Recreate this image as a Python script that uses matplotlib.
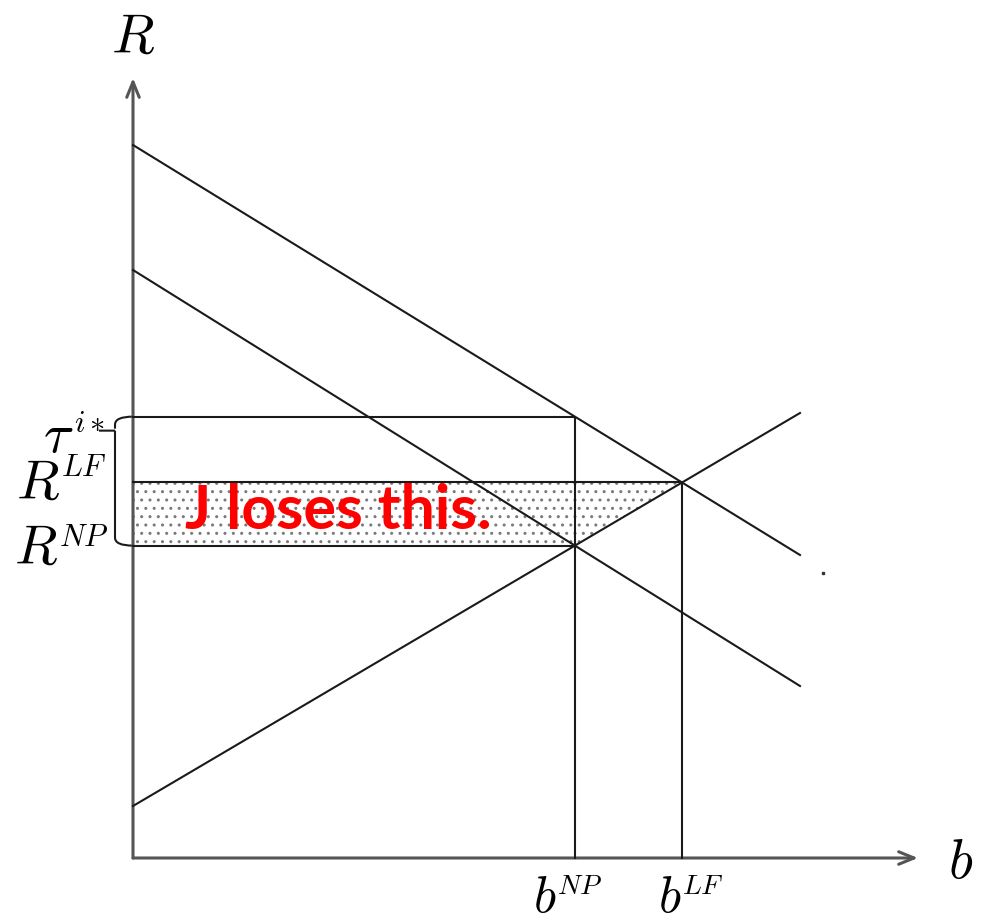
import matplotlib
matplotlib.use("Agg")
import matplotlib.pyplot as plt
import numpy as np
from matplotlib.patches import Polygon, PathPatch
from matplotlib.path import Path

plt.rcParams['mathtext.fontset'] = 'cm'
plt.rcParams['hatch.color'] = '#7a7a7a'
plt.rcParams['hatch.linewidth'] = 1.0

# ---- data (units: b horizontal, R vertical) ----
b_max = 667.0                        # right end of the curves
demand_high = [713.0, -410.0 / 667]  # intercept, slope
demand_low = [588.0, -416.0 / 667]
supply = [52.0, 393.0 / 667]
axis_len_b = 785.0
axis_len_R = 780.0
axis_labels = ["$R$", "$b$"]
level_labels = [(r"$\tau$", r"$i*$"), ("$R$", "$LF$"), ("$R$", "$NP$")]
b_labels = [("$b$", "$NP$"), ("$b$", "$LF$")]
note = "J loses this."


def line_val(p, x):
    return p[0] + p[1] * x


def intersect(p, q):
    x = (q[0] - p[0]) / (p[1] - q[1])
    return x, line_val(p, x)


b_np, R_np = intersect(supply, demand_low)
b_lf, R_lf = intersect(supply, demand_high)
tau = line_val(demand_high, b_np)

fig = plt.figure(figsize=(9.84, 9.24), dpi=100)
ax = fig.add_axes([0, 0, 1, 1])
ax.set_xlim(-133, 851)
ax.set_ylim(-66, 858)
ax.axis('off')

lc = '#1a1a1a'
lw = 1.5

# shaded area
poly = Polygon([(0, R_lf), (b_lf, R_lf), (b_np, R_np), (0, R_np)],
               closed=True, facecolor='none', edgecolor='#7a7a7a',
               linewidth=0, hatch='..', zorder=1)
ax.add_patch(poly)

# axes with open arrows
astyle = '->,head_length=1.1,head_width=0.45'
ax.annotate('', xy=(0, axis_len_R), xytext=(0, 0),
            arrowprops=dict(arrowstyle=astyle, color='#555555', lw=2.2,
                            shrinkA=0, shrinkB=0))
ax.annotate('', xy=(axis_len_b, 0), xytext=(0, 0),
            arrowprops=dict(arrowstyle=astyle, color='#555555', lw=2.2,
                            shrinkA=0, shrinkB=0))

xs = np.array([0, b_max])
for p in (demand_high, demand_low, supply):
    ax.plot(xs, line_val(p, xs), color=lc, lw=lw, zorder=3)

# guide lines
ax.plot([0, b_np, b_np], [tau, tau, 0], color=lc, lw=lw, zorder=3)
ax.plot([0, b_lf, b_lf], [R_lf, R_lf, 0], color=lc, lw=lw, zorder=3)
ax.plot([0, b_np], [R_np, R_np], color=lc, lw=lw, zorder=3)

# brace
xb = -18
tip_y = tau - 14
verts = [(0, tau), (xb, tau), (xb, tau - 8), (xb, tip_y + 2),
         (xb, tip_y), (xb - 16, tip_y), (xb, tip_y),
         (xb, R_np + 8), (xb, R_np), (0, R_np)]
codes = [Path.MOVETO, Path.CURVE3, Path.CURVE3, Path.LINETO,
         Path.MOVETO, Path.LINETO, Path.MOVETO,
         Path.LINETO, Path.CURVE3, Path.CURVE3]
ax.add_patch(PathPatch(Path(verts, codes), facecolor='none', edgecolor=lc, lw=1.5))


def sup_label(x, y, parts, dy, base_size=40, sup_size=22):
    ax.text(x, y, parts[0], fontsize=base_size, ha='right', va='baseline')
    ax.text(x + 1, y + dy, parts[1], fontsize=sup_size, ha='left', va='baseline')


# labels
ax.text(0, 805, axis_labels[0], fontsize=40, ha='center', va='baseline')
ax.text(815, -20, axis_labels[1], fontsize=40, ha='left', va='baseline')
sup_label(-60, 406, level_labels[0], 20)
sup_label(-73, R_lf - 16, level_labels[1], 22)
sup_label(-75, R_np - 18, level_labels[2], 18)
sup_label(b_np - 19, -54, b_labels[0], 18, base_size=37, sup_size=20)
sup_label(b_lf - 1, -54, b_labels[1], 18, base_size=37, sup_size=20)

ax.text(52, (R_lf + R_np) / 2 + 3, note, fontsize=44, color='#ff0000',
        fontweight='bold', family='Lato', ha='left', va='center', zorder=4)

ax.plot([690], [285], marker='s', ms=2, color='#333333')

fig.savefig('out.png', dpi=100)
